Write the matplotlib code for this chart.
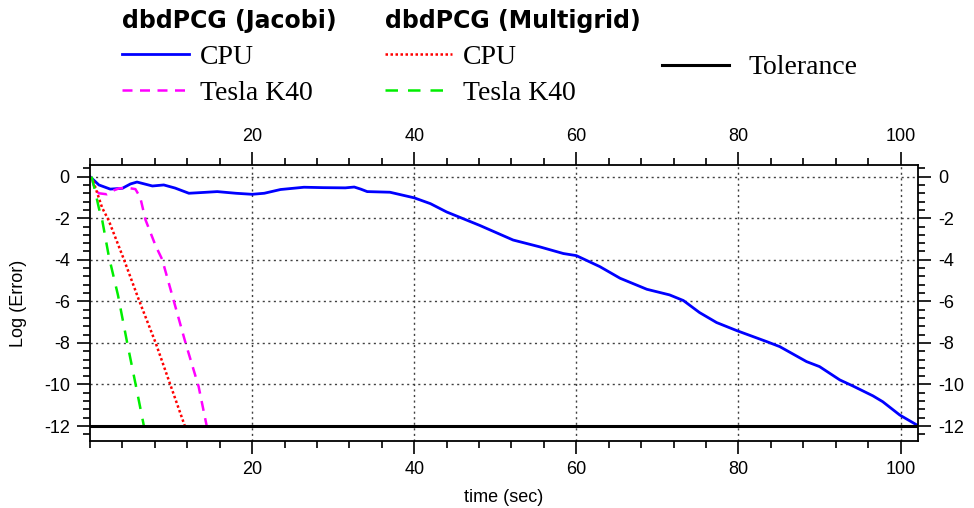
import matplotlib.pyplot as plt
from matplotlib.ticker import MultipleLocator

# Jacobi preconditioner, CPU
jac_cpu_t = [0, 1.1, 2.5, 4.0, 5.0, 5.8, 6.5, 7.7, 9.1, 10.5, 12.2, 14.0, 15.7, 18.0, 20.0,
             21.5, 23.5, 26.4, 28.8, 31.5, 32.6, 33.4, 34.2, 37.0, 40.0, 42.0, 44.0, 48.1,
             52.2, 55.5, 58.4, 60.0, 62.9, 65.4, 68.7, 71.5, 73.2, 75.2, 77.3, 79.8, 83.5,
             85.1, 88.4, 90.0, 92.5, 94.1, 96.6, 97.8, 99.9, 102.1]
jac_cpu_err = [0, -0.4, -0.6, -0.56, -0.35, -0.26, -0.33, -0.45, -0.4, -0.55, -0.8, -0.76,
               -0.72, -0.8, -0.85, -0.8, -0.62, -0.51, -0.53, -0.54, -0.5, -0.6, -0.72,
               -0.75, -1.02, -1.3, -1.7, -2.35, -3.05, -3.38, -3.7, -3.8, -4.33, -4.89,
               -5.42, -5.69, -5.96, -6.54, -7.02, -7.41, -7.94, -8.18, -8.9, -9.14, -9.78,
               -10.07, -10.55, -10.83, -11.47, -11.97]

# Jacobi preconditioner, Tesla K40
jac_gpu_t = [0.0, 0.3, 0.6, 1.1, 2.1, 3.0, 3.6, 4.8, 5.6, 6.2, 6.85, 8.1, 8.9, 10.3, 11.8, 13.4, 14.4]
jac_gpu_err = [0.0, -0.2, -0.6, -0.8, -0.85, -0.65, -0.56, -0.55, -0.6, -1.0, -2.08, -3.33,
               -3.98, -5.93, -8.02, -10.1, -12.0]

# Multigrid preconditioner, CPU
mg_cpu_t = [0.4, 0.9, 1.5, 2.3, 4.2, 6.0, 8.1, 9.9, 11.7]
mg_cpu_err = [-0.2, -0.8, -1.5, -2.1, -4.0, -5.9, -8.0, -10.0, -12.0]

# Multigrid preconditioner, Tesla K40
mg_gpu_t = [0.2, 0.6, 1.1, 1.5, 2.33, 3.45, 4.6, 5.6, 6.65]
mg_gpu_err = [0.0, -0.64, -1.52, -2.08, -3.85, -5.7, -8.02, -9.94, -12.0]

tolerance = -12

fig = plt.figure(figsize=(9.74, 5.08), dpi=100)
ax = fig.add_axes([0.0924, 0.1319, 0.8501, 0.5433])

ax.plot(jac_cpu_t, jac_cpu_err, color='#0000ff', lw=2.0, label='CPU')
ax.plot(jac_gpu_t, jac_gpu_err, color='#ff00ff', lw=1.8, ls=(0, (4, 3)), label='Tesla K40')
ax.plot(mg_cpu_t, mg_cpu_err, color='#ff0000', lw=1.8, ls=(0, (1, 1)), label='CPU')
ax.plot(mg_gpu_t, mg_gpu_err, color='#00ee00', lw=1.8, ls=(0, (5, 4)), label='Tesla K40')
tol = ax.axhline(tolerance, color='black', lw=2.2, label='Tolerance')

ax.set_xlim(0, 102.15)
ax.set_ylim(-12.72, 0.56)

ax.xaxis.set_minor_locator(MultipleLocator(4))
ax.yaxis.set_minor_locator(MultipleLocator(0.4))

tick_font = {'family': 'Liberation Sans', 'size': 13}
ax.tick_params(which='both', direction='out', top=True, right=True,
               labeltop=True, labelright=True, width=1.2, colors='black')
ax.tick_params(which='major', length=9.5, pad=5)
ax.tick_params(which='minor', length=5)
ax.set_yticks([0, -2, -4, -6, -8, -10, -12])
ax.set_yticklabels(['0', '-2', '-4', '-6', '-8', '-10', '-12'], fontdict=tick_font)
ax.set_xticks([20, 40, 60, 80, 100])
ax.set_xticklabels(['20', '40', '60', '80', '100'], fontdict=tick_font)

ax.grid(True, which='major', ls=(0, (1.5, 2.5)), color='0.25', lw=1.0)
for s in ax.spines.values():
    s.set_linewidth(1.3)

ax.set_xlabel('time (sec)', fontdict=tick_font, labelpad=8)
ax.set_ylabel('Log (Error)', fontdict=tick_font, labelpad=12)

# legends
h = ax.get_lines()
title_fp = {'family': 'DejaVu Sans', 'weight': 'bold', 'size': 17}
leg_fp = {'family': 'Liberation Serif', 'size': 20}
common = dict(frameon=False, loc='upper left', prop=leg_fp, handlelength=2.4,
              handletextpad=0.4, labelspacing=0.4, borderpad=0, borderaxespad=0,
              title_fontproperties=title_fp, alignment='left')
fig.legend(handles=[h[0], h[1]], title='dbdPCG (Jacobi)',
           bbox_to_anchor=(122 / 974, 1 - 9 / 508), **common)
fig.legend(handles=[h[2], h[3]], title='dbdPCG (Multigrid)',
           bbox_to_anchor=(385 / 974, 1 - 9 / 508), **common)
fig.legend(handles=[tol], loc='upper left', frameon=False, prop=leg_fp, handlelength=2.4,
           handletextpad=0.7, borderpad=0, borderaxespad=0,
           bbox_to_anchor=(662 / 974, 1 - 55 / 508))

fig.savefig('out.png', dpi=100)
